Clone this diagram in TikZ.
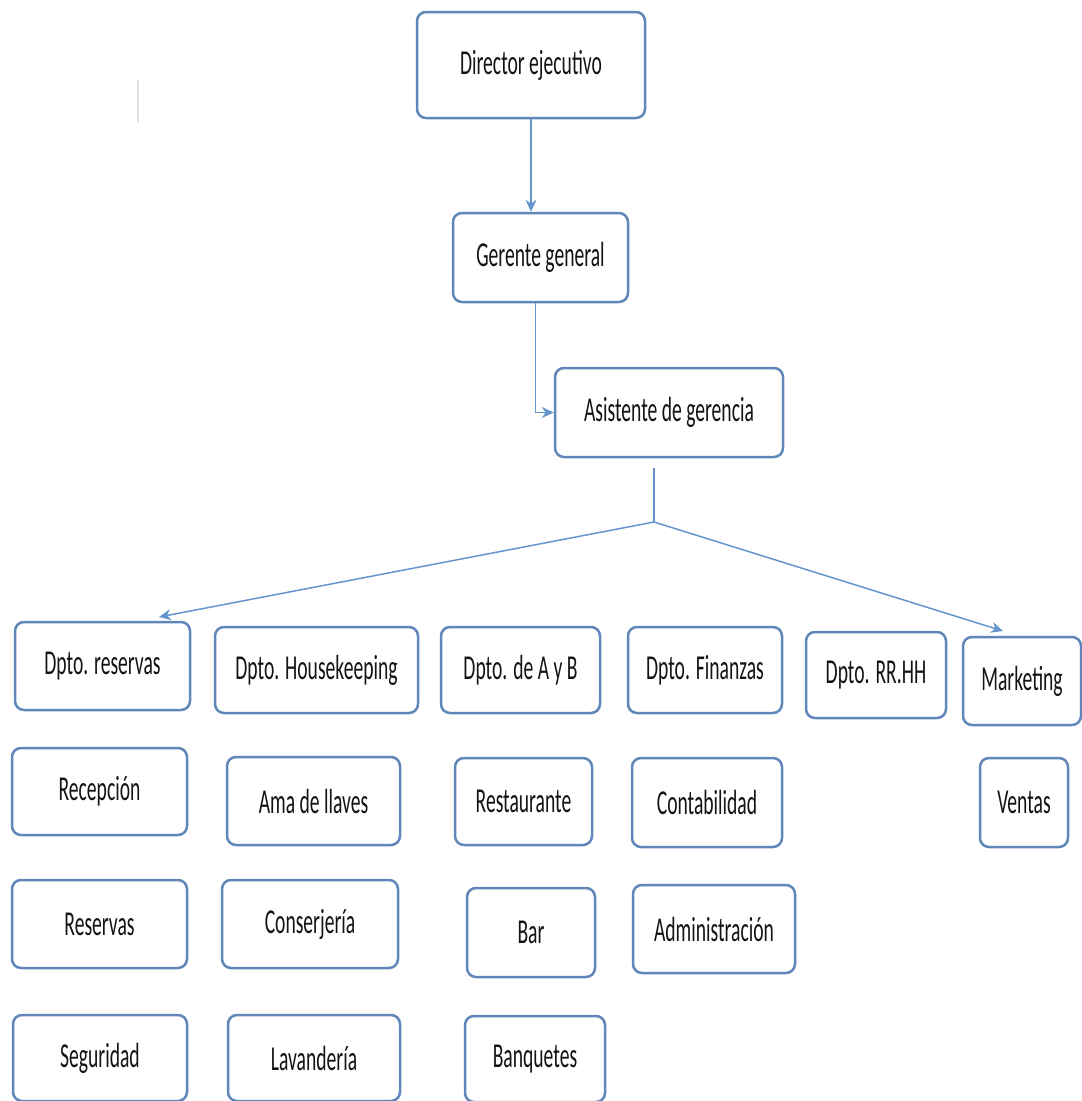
\documentclass[tikz,border=0pt]{standalone}
\usepackage{fontspec}
\setmainfont{Carlito}[FakeStretch=0.56]
\usetikzlibrary{arrows.meta}
\definecolor{boxline}{RGB}{95,135,185}
\definecolor{conn}{RGB}{100,150,205}
\definecolor{txt}{RGB}{20,20,20}
\tikzset{
  orgbox/.style={draw=boxline, line width=2.5pt, rounded corners=9pt, fill=white,
    inner sep=0pt, text=txt, font=\fontsize{35}{42}\selectfont},
  link/.style={draw=conn, line width=1.5pt},
  arr/.style={link, -{Stealth[length=12pt,width=11pt]}}
}
\newcommand{\obox}[6]{% name, cx, cy, w, h, text
  \node[orgbox, minimum width=#4pt, minimum height=#5pt] (#1) at (#2,#3) {#6};}
\begin{document}
\begin{tikzpicture}[x=1pt,y=-1pt]
\useasboundingbox (0,0) rectangle (1082,1101);
% faint stray mark
\draw[black!12, line width=1.5pt] (138,80) -- (138,122);
% top chain
\obox{dir}{531}{65}{228}{106}{Director ejecutivo}
\obox{ger}{540.5}{257.5}{175}{89}{Gerente general}
\obox{asis}{669}{412.5}{228}{89}{Asistente de gerencia}
% departments
\obox{res}{102.5}{666}{175}{88}{Dpto. reservas}
\obox{hk}{316.5}{670}{203}{86}{Dpto. Housekeeping}
\obox{ayb}{520.5}{670}{159}{86}{Dpto. de A y B}
\obox{fin}{705}{670}{154}{86}{Dpto. Finanzas}
\obox{rrhh}{876}{675}{140}{86}{Dpto. RR.HH}
\obox{mkt}{1022}{681}{118}{88}{Marketing}
% second row
\obox{recep}{99.5}{791.5}{175}{87}{Recepción}
\obox{ama}{313.5}{801}{173}{88}{Ama de llaves}
\obox{rest}{523.5}{801.5}{137}{87}{Restaurante}
\obox{cont}{707}{802.5}{150}{89}{Contabilidad}
\obox{ventas}{1024}{802.5}{88}{89}{Ventas}
% third row
\obox{reserv}{99.5}{924}{175}{88}{Reservas}
\obox{consj}{310}{924}{176}{88}{Conserjería}
\obox{bar}{531}{932.5}{128}{89}{Bar}
\obox{admin}{714}{929}{162}{88}{Administración}
% fourth row
\obox{seg}{100}{1058}{174}{86}{Seguridad}
\obox{lav}{314}{1058}{172}{86}{Lavandería}
\obox{banq}{535}{1059}{140}{86}{Banquetes}
% connectors
\draw[arr] (dir.south) -- (dir.south |- ger.north);
\coordinate (gdown) at ([xshift=-5pt]ger.south);
\draw[arr] (gdown) |- (asis.west);
\coordinate (atop) at (654,468);
\coordinate (junc) at (654,522);
\coordinate (restip) at (159,617);
\coordinate (mkttip) at (1003,631);
\draw[link] (atop) -- (junc);
\draw[arr] (junc) -- (restip);
\draw[arr] (junc) -- (mkttip);
\end{tikzpicture}
\end{document}
